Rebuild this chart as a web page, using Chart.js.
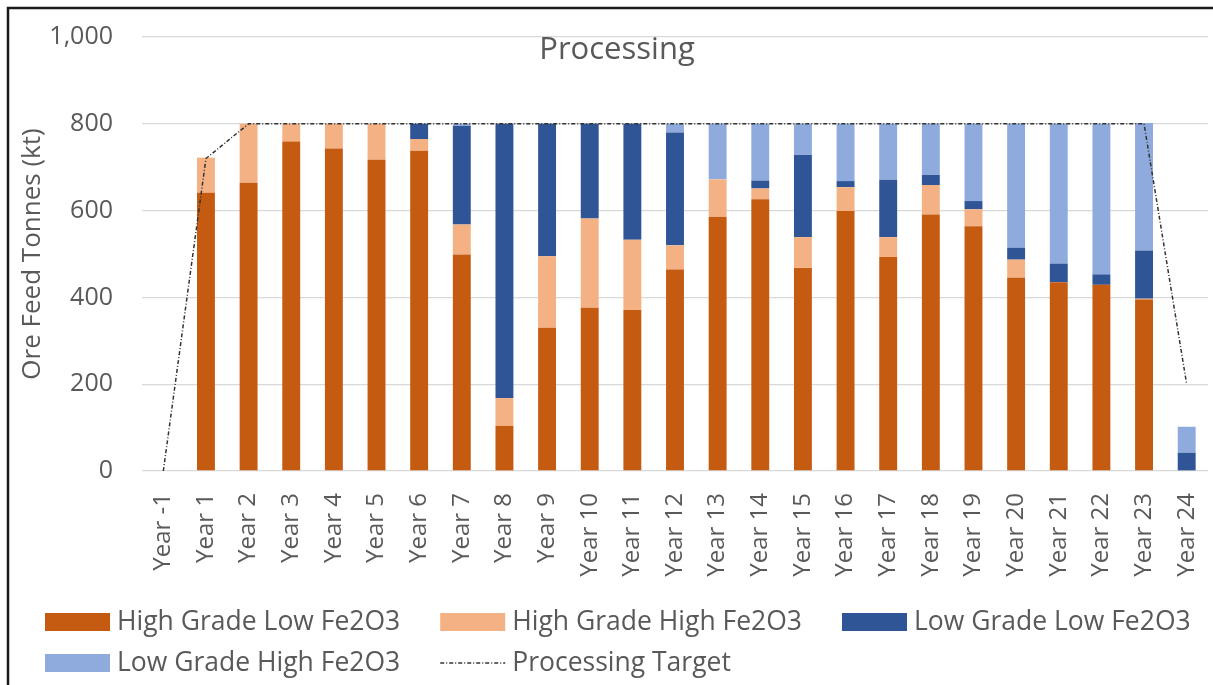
<html>

<head>
    <title>Processing</title>
    <script src="https://cdn.jsdelivr.net/npm/chart.js@4.4.1/dist/chart.umd.min.js"></script>
    <style>
        body { margin: 0; background: #fff; }
    </style>
</head>

<body>
    <canvas id="processing" width="1213" height="685"></canvas>
    <script>

        // ore feed by year, kt
        const years = ['Year -1', 'Year 1', 'Year 2', 'Year 3', 'Year 4', 'Year 5', 'Year 6', 'Year 7', 'Year 8',
            'Year 9', 'Year 10', 'Year 11', 'Year 12', 'Year 13', 'Year 14', 'Year 15', 'Year 16', 'Year 17',
            'Year 18', 'Year 19', 'Year 20', 'Year 21', 'Year 22', 'Year 23', 'Year 24'];
        const highGradeLowFe = [0, 641, 664, 759, 743, 717, 738, 499, 104, 330, 376, 371, 464, 586, 626, 468, 599, 493, 591, 564, 445, 435, 429, 395, 0];
        const highGradeHighFe = [0, 81, 136, 41, 57, 83, 27, 69, 64, 165, 206, 162, 56, 86, 25, 71, 55, 46, 68, 39, 42, 0, 0, 2, 0];
        const lowGradeLowFe = [0, 0, 0, 0, 0, 0, 35, 227, 632, 305, 218, 267, 260, 0, 18, 189, 14, 132, 23, 19, 27, 43, 24, 111, 42];
        const lowGradeHighFe = [0, 0, 0, 0, 0, 0, 0, 5, 0, 0, 0, 0, 20, 128, 131, 72, 132, 129, 118, 178, 286, 322, 347, 294, 60];
        const processingTarget = [0, 720, 800, 800, 800, 800, 800, 800, 800, 800, 800, 800, 800, 800, 800, 800, 800, 800, 800, 800, 800, 800, 800, 800, 200];
        const yTicks = [0, 200, 400, 600, 800, 1000];

        const FONT = '"Open Sans", "Noto Sans", sans-serif';
        const GREY = '#595959';
        const TARGET_DASH = [4, 2, 1, 2];

        // frame, title and legend are drawn straight onto the canvas
        const decorations = {
            id: 'decorations',
            beforeDraw(chart) {
                const ctx = chart.ctx;
                ctx.save();
                ctx.fillStyle = '#fff';
                ctx.fillRect(0, 0, chart.width, chart.height);
                ctx.strokeStyle = '#1a1a1a';
                ctx.lineWidth = 2.5;
                ctx.beginPath();
                ctx.moveTo(8, chart.height);
                ctx.lineTo(8, 8);
                ctx.lineTo(chart.width, 8);
                ctx.stroke();
                ctx.restore();
            },
            afterDraw(chart) {
                const ctx = chart.ctx;
                ctx.save();
                ctx.fillStyle = GREY;
                ctx.font = '31px ' + FONT;
                ctx.textAlign = 'center';
                ctx.textBaseline = 'middle';
                ctx.fillText('Processing', 617, 50);

                // legend: three items on the first row, the rest below
                ctx.font = '26.5px ' + FONT;
                ctx.textAlign = 'left';
                let x = 45, y = 622;
                chart.data.datasets.forEach((ds, i) => {
                    if (i === 3) { x = 45; y = 663; }
                    if (ds.type === 'line') {
                        ctx.strokeStyle = ds.borderColor;
                        ctx.lineWidth = 1.5;
                        ctx.setLineDash(TARGET_DASH);
                        ctx.beginPath();
                        ctx.moveTo(x, y);
                        ctx.lineTo(x + 65, y);
                        ctx.stroke();
                        ctx.setLineDash([]);
                    } else {
                        ctx.fillStyle = ds.backgroundColor;
                        ctx.fillRect(x, y - 9, 65, 18);
                    }
                    ctx.fillStyle = GREY;
                    ctx.fillText(ds.label, x + 72, y);
                    x += 72 + ctx.measureText(ds.label).width + 40;
                });
                ctx.restore();
            }
        };

        const barDefaults = { type: 'bar', stack: 'ore', order: 1, barPercentage: 0.42, categoryPercentage: 1 };

        new Chart(document.getElementById('processing'), {
            data: {
                labels: years,
                datasets: [
                    Object.assign({ label: 'High Grade Low Fe2O3', data: highGradeLowFe, backgroundColor: '#C55A11' }, barDefaults),
                    Object.assign({ label: 'High Grade High Fe2O3', data: highGradeHighFe, backgroundColor: '#F4B183' }, barDefaults),
                    Object.assign({ label: 'Low Grade Low Fe2O3', data: lowGradeLowFe, backgroundColor: '#2F5597' }, barDefaults),
                    Object.assign({ label: 'Low Grade High Fe2O3', data: lowGradeHighFe, backgroundColor: '#8FAADC' }, barDefaults),
                    {
                        type: 'line',
                        label: 'Processing Target',
                        data: processingTarget,
                        stack: 'target',
                        order: 0,
                        borderColor: '#333333',
                        borderWidth: 1.5,
                        borderDash: TARGET_DASH,
                        pointRadius: 0,
                        fill: false,
                        tension: 0
                    }
                ]
            },
            options: {
                responsive: false,
                animation: false,
                layout: { padding: { left: 17, right: 5, top: 37, bottom: 93 } },
                plugins: {
                    legend: { display: false },
                    title: { display: false },
                    tooltip: { enabled: false }
                },
                scales: {
                    x: {
                        stacked: true,
                        grid: { display: false, drawTicks: false },
                        border: { display: false },
                        ticks: {
                            minRotation: 90,
                            maxRotation: 90,
                            autoSkip: false,
                            padding: 22,
                            color: GREY,
                            font: { family: FONT, size: 24 }
                        },
                        afterFit: s => {
                            s.height = 121;
                            s.paddingLeft = 0;
                            s.paddingRight = 0;
                        }
                    },
                    y: {
                        stacked: true,
                        min: 0,
                        max: 1000,
                        afterBuildTicks: s => { s.ticks = yTicks.map(v => ({ value: v })); },
                        grid: { color: '#d9d9d9', lineWidth: 1.3, drawTicks: false },
                        border: { display: false },
                        ticks: {
                            padding: 29,
                            color: GREY,
                            font: { family: FONT, size: 25 },
                            callback: v => v.toLocaleString('en-US')
                        },
                        title: {
                            display: true,
                            text: 'Ore Feed Tonnes (kt)',
                            color: GREY,
                            font: { family: FONT, size: 26 },
                            padding: { top: 0, bottom: 0 }
                        },
                        afterFit: s => {
                            s.width = 125;
                            s.paddingTop = 0;
                            s.paddingBottom = 0;
                        }
                    }
                }
            },
            plugins: [decorations]
        });
    </script>
</body>

</html>
